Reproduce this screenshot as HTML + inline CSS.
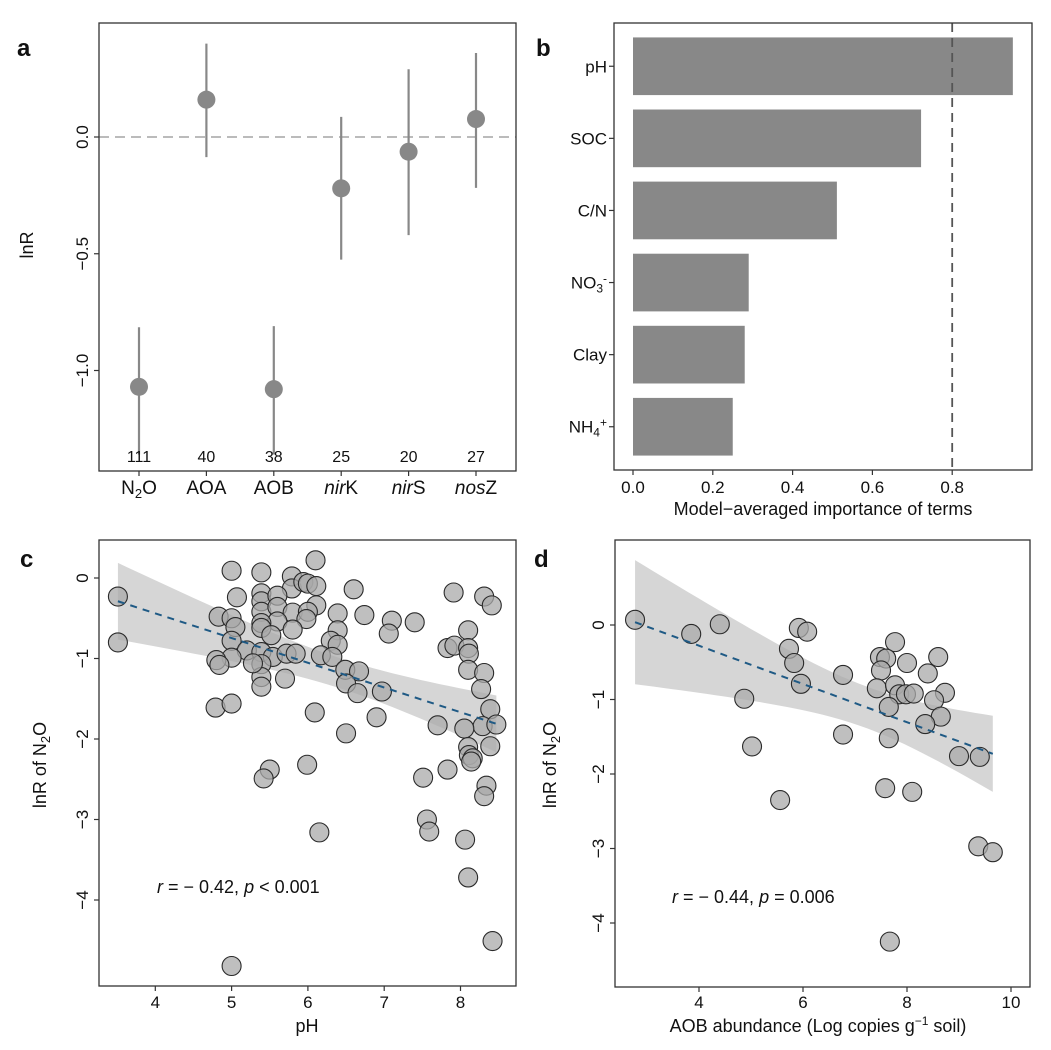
<!DOCTYPE html>
<html><head><meta charset="utf-8"><style>
body{margin:0;background:#fff}
svg{display:block;font-family:"Liberation Sans",Arial,sans-serif}
</style></head><body>
<svg id="fig" width="1051" height="1050" viewBox="0 0 1051 1050"></svg>
<script>
// Panel a data
const catsA=["N2O","AOA","AOB","nirK","nirS","nosZ"];
const meanA=[-1.07,0.16,-1.08,-0.22,-0.063,0.077];
const loA=[-1.36,-0.086,-1.36,-0.525,-0.42,-0.218];
const hiA=[-0.815,0.40,-0.81,0.086,0.29,0.36];
const nA=["111","40","38","25","20","27"];
const yTicksA=[0,-0.5,-1.0];
// Panel b data
const catsB=["pH","SOC","C/N","NO3","Clay","NH4"];
const valsB=[0.952,0.722,0.511,0.29,0.28,0.25];
const xTicksB=[0,0.2,0.4,0.6,0.8];
const thresholdB=0.8;
// Panel c data
const phX=[3.51,3.51,5.0,5.39,6.1,5.07,5.79,5.79,5.94,6.0,6.11,6.6,5.39,5.39,5.6,5.39,5.6,6.11,5.8,6.0,5.98,5.6,5.39,5.39,5.8,5.52,4.83,5.0,5.05,6.39,6.74,7.1,7.4,7.06,6.39,6.3,6.39,5.0,5.2,5.39,5.54,5.39,5.39,5.39,5.0,4.8,4.84,5.28,5.72,5.84,6.17,6.32,6.49,6.67,6.5,6.65,6.97,5.7,6.09,6.9,6.5,4.79,5.0,7.91,8.31,8.41,8.1,7.83,7.92,8.1,8.11,8.1,8.31,8.27,8.39,8.29,8.47,7.7,8.05,8.39,8.1,8.11,8.16,5.5,5.42,5.99,7.51,7.83,8.14,8.34,8.31,6.15,7.56,7.59,8.06,8.1,8.42,5.0];
const phY=[-0.23,-0.80,0.09,0.07,0.22,-0.24,0.02,-0.13,-0.05,-0.07,-0.10,-0.14,-0.19,-0.29,-0.22,-0.42,-0.36,-0.34,-0.43,-0.42,-0.51,-0.54,-0.56,-0.62,-0.64,-0.71,-0.48,-0.50,-0.61,-0.44,-0.46,-0.53,-0.55,-0.69,-0.65,-0.78,-0.83,-0.78,-0.9,-0.92,-0.98,-1.07,-1.23,-1.35,-0.99,-1.02,-1.08,-1.06,-0.94,-0.94,-0.96,-0.98,-1.14,-1.16,-1.31,-1.43,-1.41,-1.25,-1.67,-1.73,-1.93,-1.61,-1.56,-0.18,-0.23,-0.34,-0.65,-0.87,-0.84,-0.87,-0.94,-1.14,-1.18,-1.38,-1.63,-1.84,-1.82,-1.83,-1.87,-2.09,-2.10,-2.2,-2.24,-2.38,-2.49,-2.32,-2.48,-2.38,-2.28,-2.58,-2.71,-3.16,-3.0,-3.15,-3.25,-3.72,-4.51,-4.82];
const xTicksC=[4,5,6,7,8];
const yTicksC=[0,-1,-2,-3,-4];
// Panel d data
const aobX=[2.77,3.85,4.4,4.87,5.02,5.56,5.92,6.08,5.73,5.83,5.96,6.77,6.77,7.77,7.48,7.6,8.0,8.6,8.4,7.5,7.42,7.77,7.85,7.98,8.13,8.73,8.52,7.65,8.65,8.35,7.65,9.0,9.4,7.58,8.1,9.37,9.65,7.67];
const aobY=[0.07,-0.12,0.01,-0.99,-1.63,-2.35,-0.04,-0.09,-0.32,-0.51,-0.79,-0.67,-1.47,-0.23,-0.43,-0.45,-0.51,-0.43,-0.65,-0.61,-0.85,-0.81,-0.93,-0.93,-0.92,-0.91,-1.01,-1.1,-1.23,-1.33,-1.52,-1.76,-1.77,-2.19,-2.24,-2.97,-3.05,-4.25];
const xTicksD=[4,6,8,10];
const yTicksD=[0,-1,-2,-3,-4];

const svg=document.getElementById('fig');
const NS="http://www.w3.org/2000/svg";
function mk(tag,attrs,parent){const e=document.createElementNS(NS,tag);for(const k in attrs)e.setAttribute(k,attrs[k]);(parent||svg).appendChild(e);return e;}
function txt(s,x,y,size,anchor,parent,extra){const t=mk('text',Object.assign({x:x,y:y,'font-size':size,'text-anchor':anchor||'middle',fill:'#111'},extra||{}),parent);t.textContent=s;return t;}

// ---------- Panel a ----------
const gA=mk('g',{});


const axA={l:99,r:516,t:23,b:471};
const xA=i=>139+i*67.4;
const yA=v=>137-v*233.5;
txt('a',17,56,24,'start',gA,{'font-weight':'bold'});
const zl=mk('line',{x1:axA.l,x2:axA.r,y1:yA(0),y2:yA(0),stroke:'#bbb','stroke-width':2,'stroke-dasharray':'10,6'},gA);

catsA.forEach((c,i)=>{
  const x=xA(i);
  const eb=mk('line',{x1:x,x2:x,y1:yA(hiA[i]),y2:yA(loA[i]),stroke:'#888','stroke-width':2.2},gA);
  
  
  const p=mk('circle',{cx:x,cy:yA(meanA[i]),r:9,fill:'#888'},gA);
  
  
  const nl=txt(nA[i],x,462,16,'middle',gA);
  
  
  mk('line',{x1:x,x2:x,y1:axA.b,y2:axA.b+5,stroke:'#333','stroke-width':1.2},gA);
});
const catLabA=[['N','2','O'],['AOA'],['AOB'],['nir','K'],['nir','S'],['nos','Z']];
catsA.forEach((c,i)=>{
  const t=mk('text',{x:xA(i),y:494,'font-size':19,'text-anchor':'middle',fill:'#111'},gA);
  
  
  if(i===0){t.innerHTML='N<tspan font-size="13" dy="4">2</tspan><tspan dy="-4">O</tspan>';}
  else if(i>=3){t.innerHTML='<tspan font-style="italic">'+catLabA[i][0]+'</tspan>'+catLabA[i][1];}
  else t.textContent=c;
});
yTicksA.forEach(v=>{
  mk('line',{x1:axA.l-5,x2:axA.l,y1:yA(v),y2:yA(v),stroke:'#333','stroke-width':1.2},gA);
  const t=txt(v.toFixed(1).replace('-','−'),0,0,17,'middle',gA,{transform:`translate(88,${yA(v)}) rotate(-90)`});
  
  
});
const ylA=txt('lnR',0,0,18,'middle',gA,{transform:'translate(33,245) rotate(-90)'});

const frA=mk('rect',{x:axA.l,y:axA.t,width:axA.r-axA.l,height:axA.b-axA.t,fill:'none',stroke:'#333','stroke-width':1.3},gA);


// ---------- Panel b ----------
const gB=mk('g',{});


const axB={l:614,r:1032,t:23,b:470};
const xB=v=>633+v*399;
const bandB=(axB.b-axB.t)/(catsB.length-1+1.2);
const yB=i=>axB.t+bandB*(i+0.6);
txt('b',536,56,24,'start',gB,{'font-weight':'bold'});
const labB=['pH','SOC','C/N','NO<tspan font-size="12" dy="4">3</tspan><tspan font-size="12" dy="-10">-</tspan>','Clay','NH<tspan font-size="12" dy="4">4</tspan><tspan font-size="12" dy="-10">+</tspan>'];
catsB.forEach((c,i)=>{
  const bw=bandB*0.8;
  const r=mk('rect',{x:xB(0),y:yB(i)-bw/2,width:xB(valsB[i])-xB(0),height:bw,fill:'#888'},gB);
  
  
  mk('line',{x1:axB.l-5,x2:axB.l,y1:yB(i),y2:yB(i),stroke:'#333','stroke-width':1.2},gB);
  const t=mk('text',{x:axB.l-7,y:yB(i)+6,'font-size':17,'text-anchor':'end',fill:'#111'},gB);
  t.innerHTML=labB[i];
  
  
});
const thr=mk('line',{x1:xB(thresholdB),x2:xB(thresholdB),y1:axB.t,y2:axB.b,stroke:'#555','stroke-width':1.8,'stroke-dasharray':'9,6'},gB);

xTicksB.forEach(v=>{
  mk('line',{x1:xB(v),x2:xB(v),y1:axB.b,y2:axB.b+5,stroke:'#333','stroke-width':1.2},gB);
  const t=txt(v.toFixed(1),xB(v),493,17,'middle',gB);
  
});
const xlB=txt('Model−averaged importance of terms',823,515,18,'middle',gB);

const frB=mk('rect',{x:axB.l,y:axB.t,width:axB.r-axB.l,height:axB.b-axB.t,fill:'none',stroke:'#333','stroke-width':1.3},gB);


// ---------- scatter helper ----------
function regress(X,Y){
  const n=X.length;let mx=0,my=0;X.forEach((x,i)=>{mx+=x;my+=Y[i];});mx/=n;my/=n;
  let sxx=0,sxy=0;X.forEach((x,i)=>{sxx+=(x-mx)**2;sxy+=(x-mx)*(Y[i]-my);});
  const b=sxy/sxx,a=my-b*mx;let sse=0;X.forEach((x,i)=>{sse+=(Y[i]-a-b*x)**2;});
  const s=Math.sqrt(sse/(n-2));return {a,b,mx,sxx,s,n};
}
function scatter(g,X,Y,ax,xs,ys,xt,yt,name){
  const f=regress(X,Y);
  const x0=Math.min(...X),x1=Math.max(...X);
  let up=[],lo=[];
  for(let k=0;k<=40;k++){
    const x=x0+(x1-x0)*k/40;const yh=f.a+f.b*x;
    const se=f.s*Math.sqrt(1/f.n+(x-f.mx)**2/f.sxx)*2.0;
    up.push(xs(x)+','+ys(yh+se));lo.unshift(xs(x)+','+ys(yh-se));
  }
  const band=mk('polygon',{points:up.concat(lo).join(' '),fill:'#d6d6d6'},g);
  
  X.forEach((x,i)=>{
    const c=mk('circle',{cx:xs(x),cy:ys(Y[i]),r:9.5,fill:'rgba(170,170,170,0.75)',stroke:'#2a2a2a','stroke-width':1.1},g);
    
    
  });
  const ln=mk('line',{x1:xs(x0),y1:ys(f.a+f.b*x0),x2:xs(x1),y2:ys(f.a+f.b*x1),stroke:'#1f5a85','stroke-width':2,'stroke-dasharray':'7,6'},g);
  
  xt.forEach(v=>{
    mk('line',{x1:xs(v),x2:xs(v),y1:ax.b,y2:ax.b+5,stroke:'#333','stroke-width':1.2},g);
    const t=txt(String(v),xs(v),1008,17,'middle',g);
    
  });
  yt.forEach(v=>{
    mk('line',{x1:ax.l-5,x2:ax.l,y1:ys(v),y2:ys(v),stroke:'#333','stroke-width':1.2},g);
    const t=txt(String(v).replace('-','−'),0,0,17,'middle',g,{transform:`translate(${ax.l-11},${ys(v)}) rotate(-90)`});
    
  });
  const fr=mk('rect',{x:ax.l,y:ax.t,width:ax.r-ax.l,height:ax.b-ax.t,fill:'none',stroke:'#333','stroke-width':1.3},g);
  
}

// ---------- Panel c ----------
const gC=mk('g',{});


const axC={l:99,r:516,t:540,b:986};
scatter(gC,phX,phY,axC,v=>155.3+(v-4)*76.3,v=>578-v*80.5,xTicksC,yTicksC,'ph');
txt('c',20,567,24,'start',gC,{'font-weight':'bold'});
const ylC=mk('text',{transform:'translate(46,765) rotate(-90)','font-size':18,'text-anchor':'middle',fill:'#111'},gC);
ylC.innerHTML='lnR of N<tspan font-size="13" dy="4">2</tspan><tspan dy="-4">O</tspan>';

const xlC=txt('pH',307,1032,18,'middle',gC);

const anC=mk('text',{x:157,y:893,'font-size':18,fill:'#111'},gC);
anC.innerHTML='<tspan font-style="italic">r</tspan> = − 0.42, <tspan font-style="italic">p</tspan> &lt; 0.001';


// ---------- Panel d ----------
const gD=mk('g',{});


const axD={l:615,r:1030,t:540,b:987};
scatter(gD,aobX,aobY,axD,v=>699+(v-4)*52,v=>625-v*74.5,xTicksD,yTicksD,'aob');
txt('d',534,567,24,'start',gD,{'font-weight':'bold'});
const ylD=mk('text',{transform:'translate(556,765) rotate(-90)','font-size':18,'text-anchor':'middle',fill:'#111'},gD);
ylD.innerHTML='lnR of N<tspan font-size="13" dy="4">2</tspan><tspan dy="-4">O</tspan>';

const xlD=mk('text',{x:818,y:1032,'font-size':18,'text-anchor':'middle',fill:'#111'},gD);
xlD.innerHTML='AOB abundance (Log copies g<tspan font-size="12" dy="-7">−1</tspan><tspan dy="7"> soil)</tspan>';

const anD=mk('text',{x:672,y:903,'font-size':18,fill:'#111'},gD);
anD.innerHTML='<tspan font-style="italic">r</tspan> = − 0.44, <tspan font-style="italic">p</tspan> = 0.006';

</script>
</body></html>
